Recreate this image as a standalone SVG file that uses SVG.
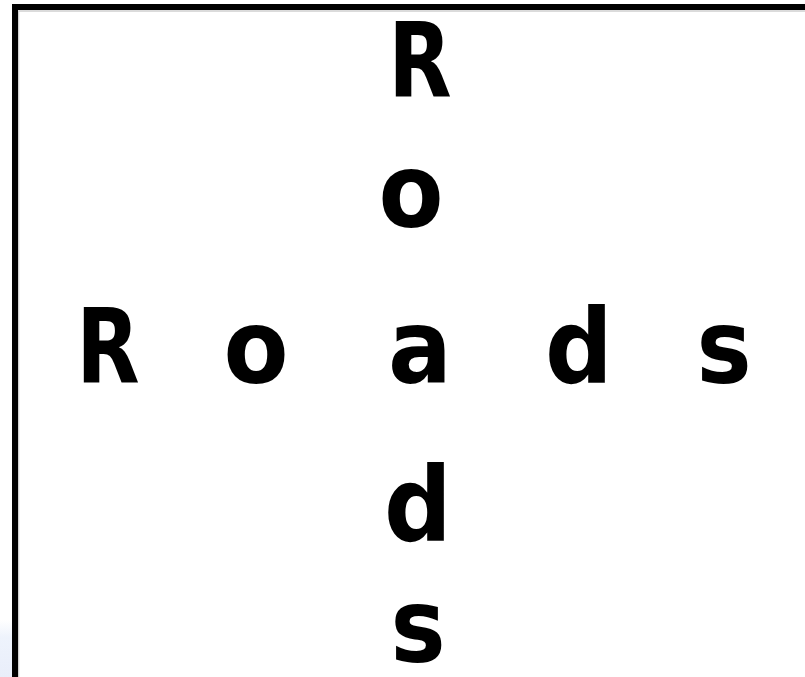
<svg xmlns="http://www.w3.org/2000/svg" width="805" height="677" viewBox="0 0 805 677">
  <defs>
    <linearGradient id="tint" x1="0" y1="0" x2="0" y2="1">
      <stop offset="0" stop-color="#ffffff"/>
      <stop offset="0.3" stop-color="#eef3fc"/>
      <stop offset="1" stop-color="#e9eefa"/>
    </linearGradient>
    <style>
      .ltr { font-family: "DejaVu Sans", "Liberation Sans", sans-serif; font-weight: bold; font-size: 103px; fill: #000; text-anchor: middle; }
    </style>
  </defs>
  <rect width="805" height="677" fill="#ffffff"/>
  <rect x="0" y="620" width="12" height="57" fill="url(#tint)"/>
  <g id="frame">
    <path d="M18.5,680 V11 H810" fill="none" stroke="#d0d0d0" stroke-width="1.5"/>
    <path d="M15,680 V7 H810" fill="none" stroke="#000" stroke-width="6"/>
  </g>
  <g id="vertical">
    <text class="ltr" transform="translate(420,97) scale(0.8,1)">R</text>
    <text class="ltr" transform="translate(411,227) scale(0.92,1)">o</text>
    <text class="ltr" transform="translate(418,541) scale(0.92,1)">d</text>
    <text class="ltr" transform="translate(418,662) scale(0.9,1)">s</text>
  </g>
  <g id="horizontal">
    <text class="ltr" transform="translate(108,383) scale(0.8,1)">R</text>
    <text class="ltr" transform="translate(256,383) scale(0.92,1)">o</text>
    <text class="ltr" transform="translate(420,383) scale(0.92,1)">a</text>
    <text class="ltr" transform="translate(579,383) scale(0.92,1)">d</text>
    <text class="ltr" transform="translate(724,383) scale(0.9,1)">s</text>
  </g>
</svg>
